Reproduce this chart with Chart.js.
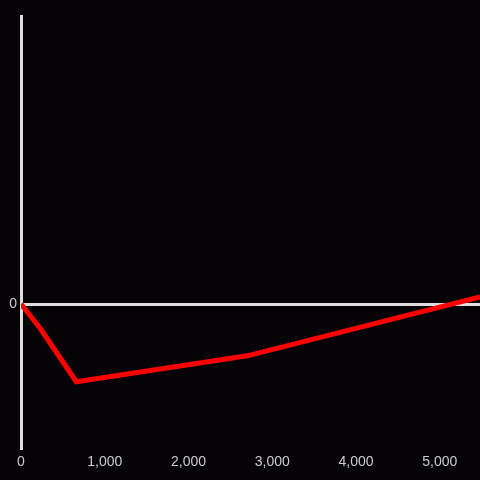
<!DOCTYPE html>
<html>
<head>
<meta charset="utf-8">
<script src="https://cdn.jsdelivr.net/npm/chart.js@4/dist/chart.umd.min.js"></script>
<style>
  html, body { margin: 0; padding: 0; background: #050307; }
  #wrap { width: 480px; height: 480px; position: relative; }
</style>
</head>
<body>
<div id="wrap"><canvas id="chart"></canvas></div>
<script>
// data
const xValues = [0, 230, 660, 2700, 5480];
const yValues = [0, -0.17, -0.54, -0.36, 0.05];
const xTicks = [0, 1000, 2000, 3000, 4000, 5000];

const bgPlugin = {
    id: 'bg',
    beforeDraw(chart) {
        const ctx = chart.ctx;
        ctx.save();
        ctx.fillStyle = '#050307';
        ctx.fillRect(0, 0, chart.width, chart.height);
        ctx.restore();
    }
};

const ctx = document.getElementById('chart').getContext('2d');
new Chart(ctx, {
    type: 'line',
    data: {
        datasets: [{
            data: xValues.map((x, i) => ({ x: x, y: yValues[i] })),
            borderColor: '#ff0000',
            borderWidth: 5,
            pointRadius: 0,
            tension: 0,
            borderJoinStyle: 'miter'
        }]
    },
    options: {
        responsive: true,
        maintainAspectRatio: false,
        animation: false,
        layout: { padding: { top: 16, right: 0, left: 0, bottom: 0 } },
        plugins: {
            legend: { display: false },
            tooltip: { enabled: false }
        },
        scales: {
            x: {
                type: 'linear',
                min: 0,
                max: 5480,
                afterBuildTicks: (scale) => {
                    scale.ticks = xTicks.map(v => ({ value: v }));
                },
                afterFit: (scale) => { scale.height = 32; },
                border: { display: false },
                grid: { display: false, drawTicks: false },
                ticks: {
                    color: '#cccccc',
                    padding: 6,
                    maxRotation: 0,
                    font: { family: 'Liberation Sans', size: 14 },
                    callback: (v) => v.toLocaleString('en-US')
                }
            },
            y: {
                min: -1,
                max: 2,
                afterBuildTicks: (scale) => {
                    scale.ticks = [{ value: 0 }];
                },
                afterFit: (scale) => { scale.width = 21; },
                border: { display: true, color: '#dddddd', width: 3 },
                grid: {
                    color: '#dddddd',
                    lineWidth: 3,
                    drawTicks: false
                },
                ticks: {
                    color: '#cccccc',
                    padding: 4,
                    font: { family: 'Liberation Sans', size: 14 }
                }
            }
        }
    },
    plugins: [bgPlugin]
});
</script>
</body>
</html>
